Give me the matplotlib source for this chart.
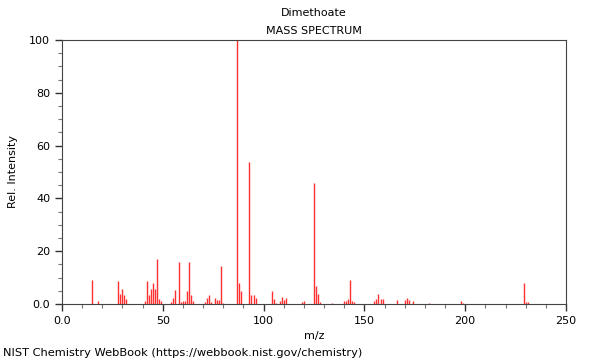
import matplotlib
matplotlib.use("Agg")
import matplotlib.pyplot as plt
from matplotlib.ticker import MultipleLocator, FixedFormatter, FixedLocator

# m/z values and relative intensities
mz = [15, 18, 28, 29, 30, 31, 32, 41, 42, 43, 44, 45, 46, 47, 48, 49,
      54, 55, 56, 58, 59, 60, 61, 62, 63, 64, 65, 71, 72, 73, 74, 76, 77, 78, 79, 80,
      87, 88, 89, 93, 94, 95, 96, 104, 105, 106, 108, 109, 110, 111,
      119, 120, 125, 126, 127, 128, 134, 140, 141, 142, 143, 144, 145,
      155, 156, 157, 158, 159, 166, 170, 171, 172, 174, 182, 198, 199,
      229, 230, 231]
intensity = [9.1, 1.0, 8.7, 3.8, 5.8, 3.3, 1.8, 1.0, 8.7, 3.3, 5.6, 8.0, 5.8, 17.0, 2.0, 1.0,
             0.7, 2.2, 5.3, 16.0, 0.8, 1.0, 1.0, 4.9, 15.9, 3.4, 1.0, 0.8, 2.2, 3.3, 0.8, 2.2, 1.4, 1.4, 14.3, 0.5,
             100.0, 7.8, 5.0, 53.8, 3.4, 3.3, 2.1, 5.0, 2.0, 0.5, 1.0, 2.6, 1.5, 2.3,
             0.9, 1.0, 45.7, 6.8, 3.8, 0.6, 0.5, 1.0, 1.0, 1.9, 9.1, 1.0, 0.8,
             1.0, 1.8, 3.8, 2.0, 2.0, 1.5, 1.5, 2.2, 1.5, 1.0, 0.5, 1.3, 0.5,
             7.8, 0.6, 0.8]

x_ticks = [0, 50, 100, 150, 200, 250]
x_labels = ["0.0", "50", "100", "150", "200", "250"]
y_ticks = [0, 20, 40, 60, 80, 100]
y_labels = ["0.0", "20", "40", "60", "80", "100"]

plt.rcParams["font.family"] = ["DejaVu Sans"]
plt.rcParams["font.size"] = 8

fig = plt.figure(figsize=(6, 3.6), dpi=100)
ax = fig.add_axes([0.1033, 0.1556, 0.84, 0.7333])

ax.vlines(mz, 0, intensity, colors="#ff3030", linewidth=1.0)

ax.set_xlim(0, 250)
ax.set_ylim(0, 100)
ax.xaxis.set_major_locator(FixedLocator(x_ticks))
ax.xaxis.set_major_formatter(FixedFormatter(x_labels))
ax.yaxis.set_major_locator(FixedLocator(y_ticks))
ax.yaxis.set_major_formatter(FixedFormatter(y_labels))
ax.xaxis.set_minor_locator(MultipleLocator(10))
ax.yaxis.set_minor_locator(MultipleLocator(5))
ax.tick_params(which="major", direction="out", length=5, width=1, colors="#333333", labelcolor="black", labelsize=8)
ax.tick_params(which="minor", direction="out", length=3, width=0.8, colors="#777777")
for s in ax.spines.values():
    s.set_color("#444444")
    s.set_linewidth(0.8)

ax.set_xlabel("m/z", fontsize=8)
ax.set_ylabel("Rel. Intensity", fontsize=8, labelpad=8)
fig.text(0.5233, 0.965, "Dimethoate", ha="center", va="center", fontsize=8)
fig.text(0.5233, 0.915, "MASS SPECTRUM", ha="center", va="center", fontsize=8)
fig.text(0.005, 0.02, "NIST Chemistry WebBook (https://webbook.nist.gov/chemistry)", ha="left", va="center", fontsize=8.2)

fig.savefig("out.png", dpi=100)
